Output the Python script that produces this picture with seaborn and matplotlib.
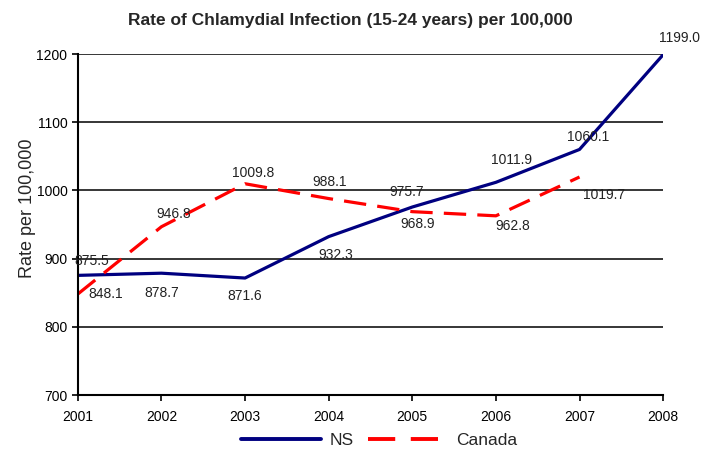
import pandas as pd
import matplotlib
matplotlib.use("Agg")
import matplotlib.pyplot as plt
import seaborn as sns

# Datos
years = [2001, 2002, 2003, 2004, 2005, 2006, 2007, 2008]
ns_rate = [875.5, 878.7, 871.6, 932.3, 975.7, 1011.9, 1060.1, 1199.0]
canada_years = [2001, 2002, 2003, 2004, 2005, 2006, 2007]
canada_rate = [848.1, 946.8, 1009.8, 988.1, 968.9, 962.8, 1019.7]

# Desplazamiento de las etiquetas (puntos)
ns_offsets = [(10, 10), (0, -14), (0, -13), (5, -13), (-4, 11), (11, 16), (6, 9), (12, 12)]
canada_offsets = [(20, 0), (9, 9), (6, 8), (1, 12), (4, -9), (12, -7), (18, -13)]

df = pd.concat([
    pd.DataFrame({'Year': years, 'Rate': ns_rate, 'Region': 'NS'}),
    pd.DataFrame({'Year': canada_years, 'Rate': canada_rate, 'Region': 'Canada'}),
], ignore_index=True)

sns.set_style("white")
plt.rcParams['font.family'] = ['Liberation Sans', 'DejaVu Sans']

fig = plt.figure(figsize=(7.01, 4.5), dpi=100)
ax = fig.add_axes([0.111, 0.122, 0.835, 0.758])

sns.lineplot(data=df, x='Year', y='Rate', hue='Region', style='Region',
             palette={'NS': '#000080', 'Canada': '#ff0000'},
             dashes={'NS': '', 'Canada': (7, 3.5)},
             linewidth=2.3, ax=ax, legend=False)

for x, y, off in zip(years, ns_rate, ns_offsets):
    ax.annotate(f'{y:.1f}', (x, y), xytext=off, textcoords='offset points',
                ha='center', va='center', fontsize=10, color='#222222')
for x, y, off in zip(canada_years, canada_rate, canada_offsets):
    ax.annotate(f'{y:.1f}', (x, y), xytext=off, textcoords='offset points',
                ha='center', va='center', fontsize=10, color='#222222')

ax.set_xlim(2001, 2008)
ax.set_ylim(700, 1200)
ax.set_xticks(years)
ax.set_yticks([700, 800, 900, 1000, 1100, 1200])
for v in [800, 900, 1000, 1100, 1200]:
    ax.axhline(v, color='black', linewidth=1.1, zorder=0)
ax.tick_params(axis='both', direction='out', length=4, width=1.2, labelsize=10,
               bottom=True, left=True, colors='black')
ax.tick_params(axis='x', pad=7)
for s in ['top', 'right']:
    ax.spines[s].set_visible(False)
for s in ['left', 'bottom']:
    ax.spines[s].set_color('black')
    ax.spines[s].set_linewidth(1.5)

ax.set_xlabel('')
ax.set_ylabel('Rate per 100,000', fontsize=13)
ax.yaxis.set_label_coords(-0.072, 0.548)

fig.text(0.5, 0.955, 'Rate of Chlamydial Infection (15-24 years) per 100,000',
         ha='center', va='center', fontsize=12.5, fontweight='bold')

handles = [plt.Line2D([], [], color='#000080', linewidth=2.8),
           plt.Line2D([], [], color='#ff0000', linewidth=2.8, dashes=(7, 4))]
fig.legend(handles, ['NS', 'Canada'], loc='center', bbox_to_anchor=(0.541, 0.022),
           ncol=2, frameon=False, fontsize=12.5, handlelength=4.6, handletextpad=0.5,
           columnspacing=0.8, borderpad=0)

fig.savefig('out.png', dpi=100)
